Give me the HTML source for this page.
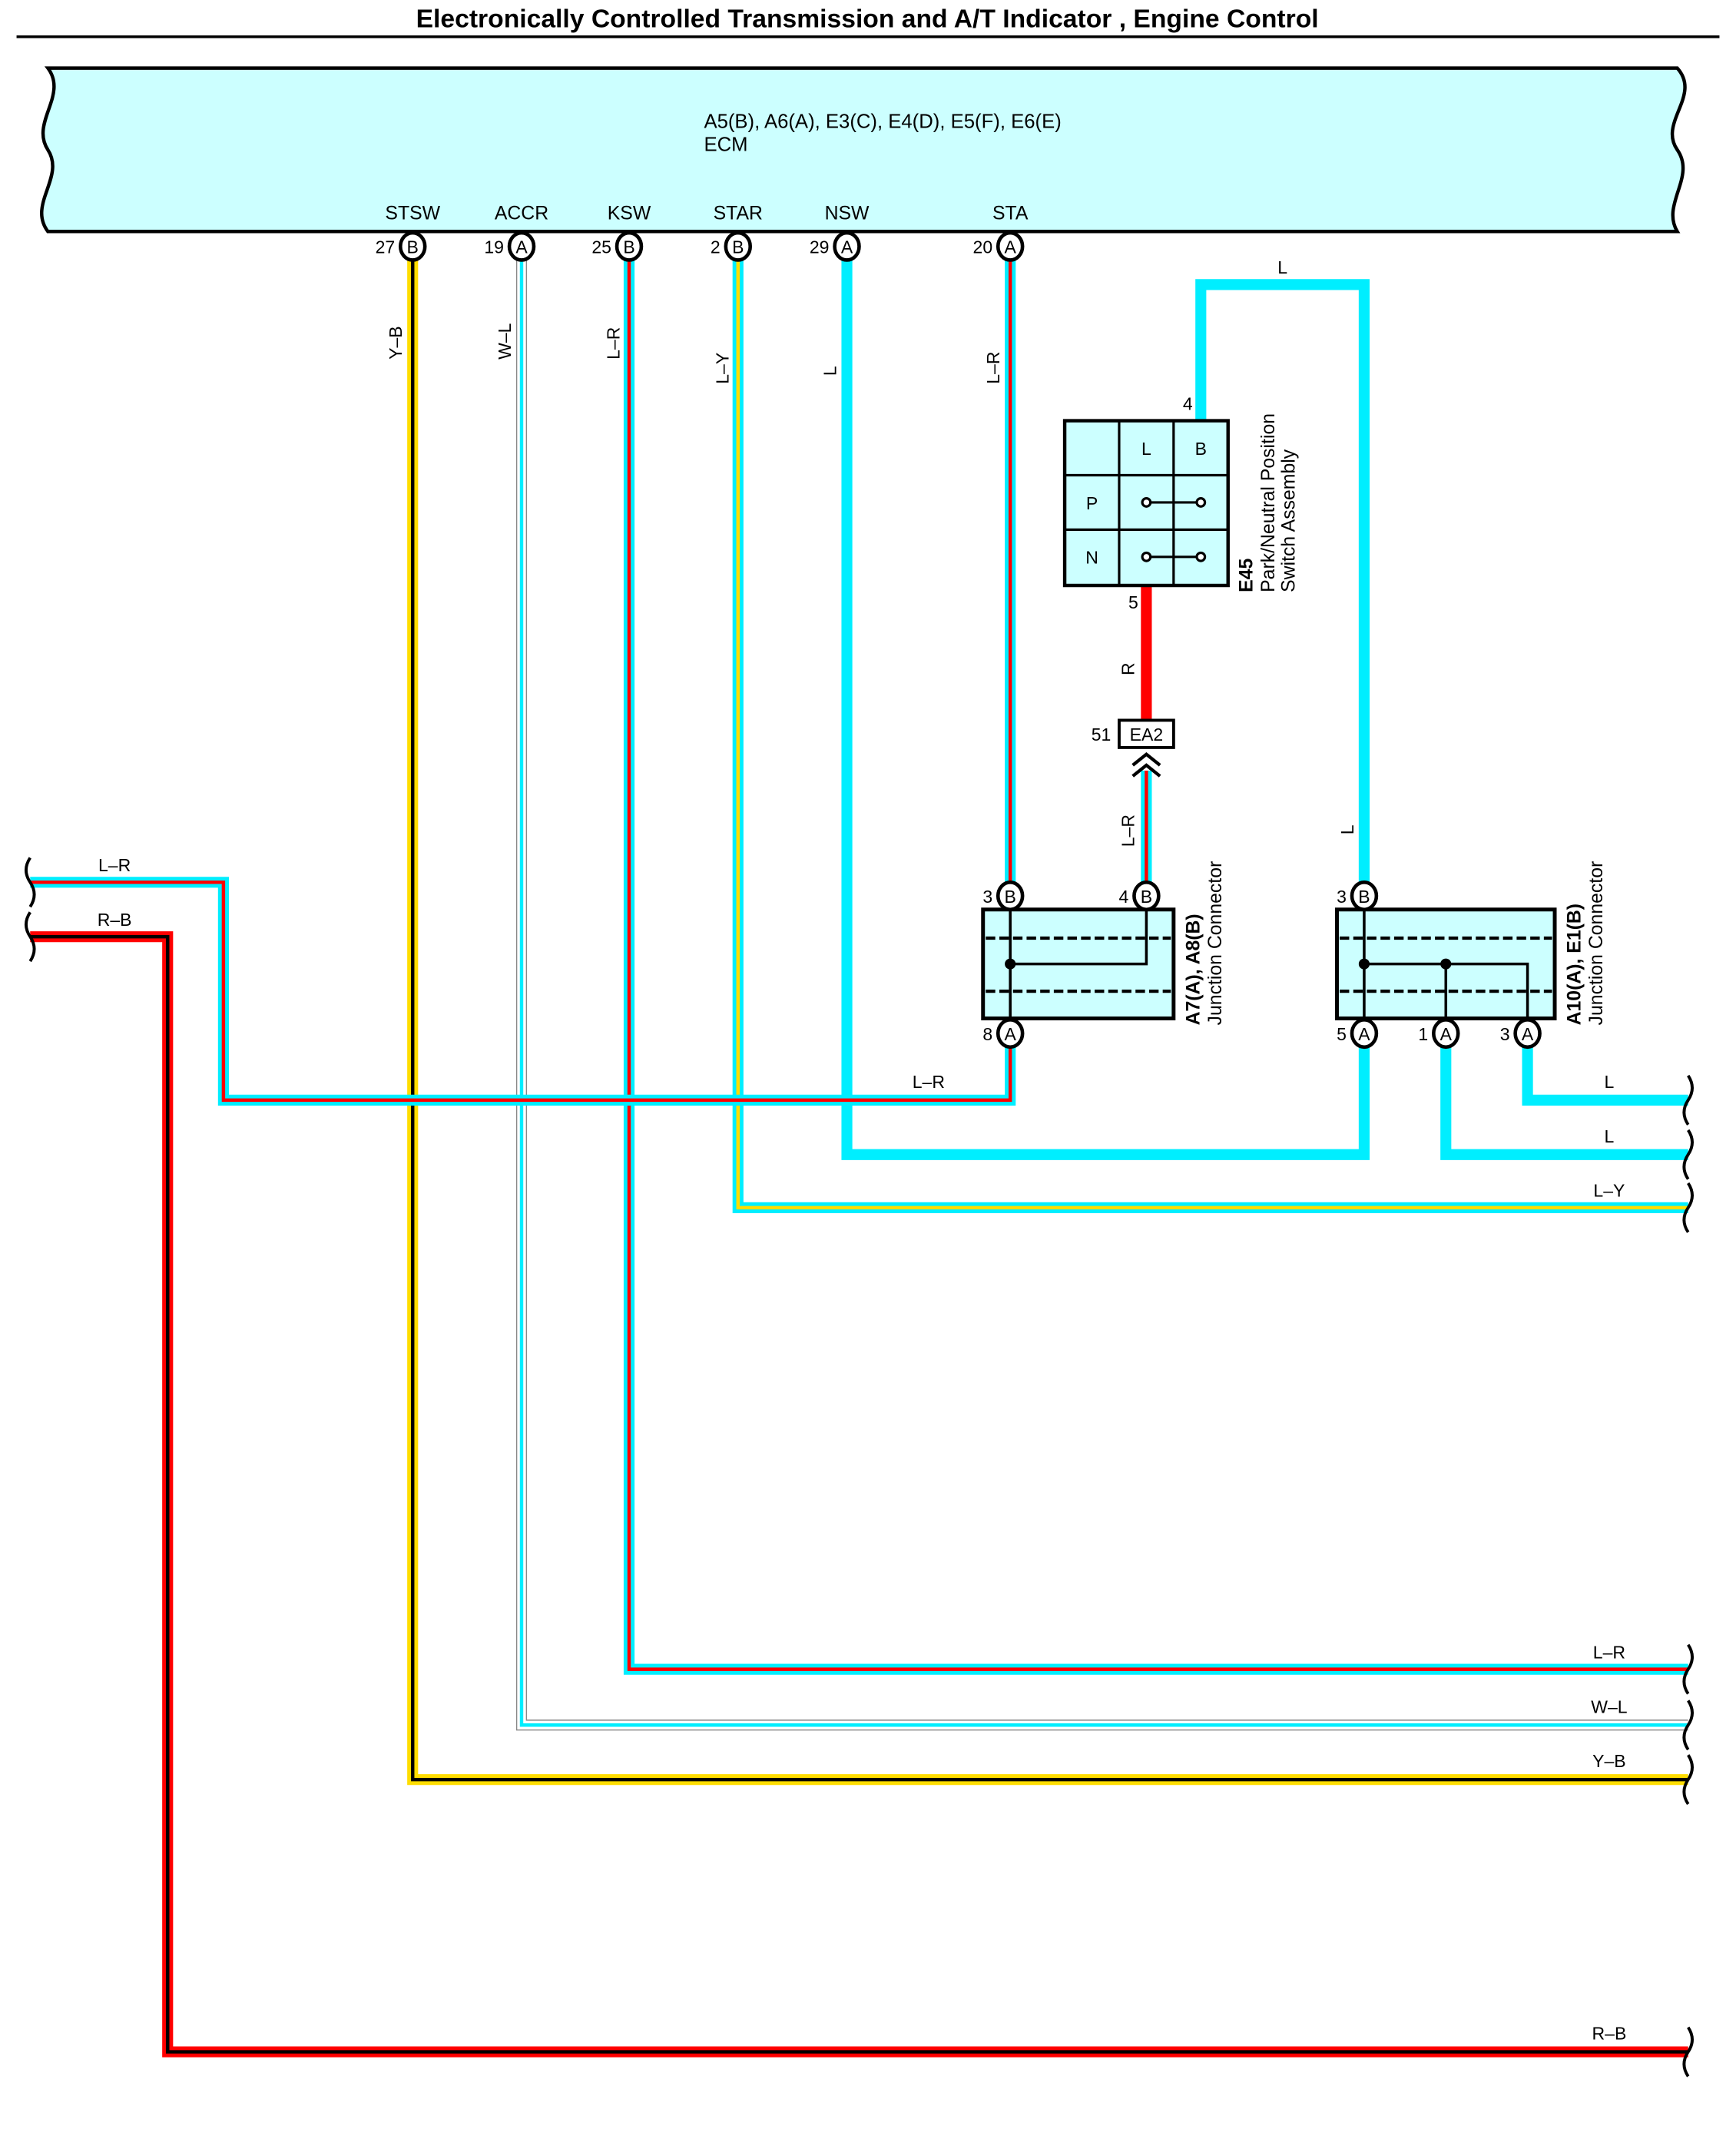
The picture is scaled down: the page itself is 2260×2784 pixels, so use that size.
<!DOCTYPE html>
<html><head><meta charset="utf-8"><style>
html,body{margin:0;padding:0;background:#fff}
svg{display:block}
text{font-family:"Liberation Sans",Arial,sans-serif;fill:#000}
</style></head><body>
<svg width="2260" height="2784" viewBox="0 0 1275 1571" xmlns="http://www.w3.org/2000/svg">
<defs>
<g id="pinA"><ellipse cx="0" cy="0" rx="9" ry="10" fill="#fff" stroke="#000" stroke-width="2.6"/><text x="0" y="5" font-size="13" text-anchor="middle">A</text></g>
<g id="pinB"><ellipse cx="0" cy="0" rx="9" ry="10" fill="#fff" stroke="#000" stroke-width="2.6"/><text x="0" y="5" font-size="13" text-anchor="middle">B</text></g>
</defs>
<text x="637" y="20" font-size="19" font-weight="bold" text-anchor="middle">Electronically Controlled Transmission and A/T Indicator , Engine Control</text>
<line x1="12" y1="27" x2="1263" y2="27" stroke="#000" stroke-width="2"/>

<!-- ECM -->
<path d="M35,50 L1232,50 C1250,70 1218,90 1232,110 C1246,130 1220,150 1232,170 L35,170 C20,150 48,130 35,110 C22,90 50,70 35,50 Z" fill="#ccffff" stroke="#000" stroke-width="2.5"/>
<text x="517" y="94" font-size="14.5">A5(B), A6(A), E3(C), E4(D), E5(F), E6(E)</text>
<text x="517" y="111" font-size="14.5">ECM</text>
<g font-size="14" text-anchor="middle">
<text x="303" y="161">STSW</text><text x="383" y="161">ACCR</text><text x="462" y="161">KSW</text>
<text x="542" y="161">STAR</text><text x="622" y="161">NSW</text><text x="742" y="161">STA</text>
</g>

<g fill="none" stroke-linejoin="miter" stroke-linecap="butt">
<polyline points="303,185 303,1307 1240,1307" stroke="#ffdd00" stroke-width="8"/>
<polyline points="303,185 303,1307 1240,1307" stroke="#000" stroke-width="2.5"/>
<polyline points="383,185 383,1267 1240,1267" stroke="#888" stroke-width="8"/>
<polyline points="383,185 383,1267 1240,1267" stroke="#fff" stroke-width="6.4"/>
<polyline points="383,185 383,1267 1240,1267" stroke="#00eeff" stroke-width="2.5"/>
<polyline points="462,185 462,1226 1240,1226" stroke="#00eeff" stroke-width="8"/>
<polyline points="462,185 462,1226 1240,1226" stroke="#ff0000" stroke-width="2.5"/>
<polyline points="542,185 542,887 1240,887" stroke="#00eeff" stroke-width="8"/>
<polyline points="542,185 542,887 1240,887" stroke="#ffdd00" stroke-width="2.5"/>
<polyline points="622,185 622,848 1002,848 1002,765" stroke="#00eeff" stroke-width="8"/>
<polyline points="742,185 742,652" stroke="#00eeff" stroke-width="8"/>
<polyline points="742,185 742,652" stroke="#ff0000" stroke-width="2.5"/>
<polyline points="22,648 164,648 164,808 742,808 742,765" stroke="#00eeff" stroke-width="8"/>
<polyline points="22,648 164,648 164,808 742,808 742,765" stroke="#ff0000" stroke-width="2.5"/>
<polyline points="22,688 123,688 123,1507 1240,1507" stroke="#ff0000" stroke-width="8"/>
<polyline points="22,688 123,688 123,1507 1240,1507" stroke="#000" stroke-width="2.5"/>
<polyline points="882,309 882,209 1002,209 1002,652" stroke="#00eeff" stroke-width="8"/>
<line x1="842" y1="430" x2="842" y2="529" stroke="#ff0000" stroke-width="8"/>
<line x1="842" y1="566" x2="842" y2="652" stroke="#00eeff" stroke-width="8"/>
<line x1="842" y1="566" x2="842" y2="652" stroke="#ff0000" stroke-width="2.5"/>
<polyline points="1062,765 1062,848 1240,848" stroke="#00eeff" stroke-width="8"/>
<polyline points="1122,765 1122,808 1240,808" stroke="#00eeff" stroke-width="8"/>
</g>

<use href="#pinB" x="303" y="181"/><use href="#pinA" x="383" y="181"/><use href="#pinB" x="462" y="181"/>
<use href="#pinB" x="542" y="181"/><use href="#pinA" x="622" y="181"/><use href="#pinA" x="742" y="181"/>
<g font-size="13" text-anchor="end">
<text x="290" y="186">27</text><text x="370" y="186">19</text><text x="449" y="186">25</text>
<text x="529" y="186">2</text><text x="609" y="186">29</text><text x="729" y="186">20</text>
</g>

<g font-size="13">
<text transform="translate(295,264) rotate(-90)">Y–B</text>
<text transform="translate(375,264) rotate(-90)">W–L</text>
<text transform="translate(455,264) rotate(-90)">L–R</text>
<text transform="translate(535,282) rotate(-90)">L–Y</text>
<text transform="translate(614,276) rotate(-90)">L</text>
<text transform="translate(734,282) rotate(-90)">L–R</text>
<text transform="translate(833,496) rotate(-90)">R</text>
<text transform="translate(833,622) rotate(-90)">L–R</text>
<text transform="translate(994,613) rotate(-90)">L</text>
</g>
<g font-size="13" text-anchor="middle">
<text x="942" y="201">L</text>
<text x="84" y="640">L–R</text><text x="84" y="680">R–B</text>
<text x="682" y="799">L–R</text>
<text x="1182" y="799">L</text><text x="1182" y="839">L</text><text x="1182" y="879">L–Y</text>
<text x="1182" y="1218">L–R</text><text x="1182" y="1258">W–L</text><text x="1182" y="1298">Y–B</text><text x="1182" y="1498">R–B</text>
</g>

<g fill="none" stroke="#000" stroke-width="2.2">
<path d="M1240,790 q6,9 0,18 q-6,9 0,18"/>
<path d="M1240,830 q6,9 0,18 q-6,9 0,18"/>
<path d="M1240,869 q6,9 0,18 q-6,9 0,18"/>
<path d="M1240,1208 q6,9 0,18 q-6,9 0,18"/>
<path d="M1240,1249 q6,9 0,18 q-6,9 0,18"/>
<path d="M1240,1289 q6,9 0,18 q-6,9 0,18"/>
<path d="M1240,1489 q6,9 0,18 q-6,9 0,18"/>
<path d="M22,630 q-6,9 0,18 q6,9 0,18"/>
<path d="M22,670 q-6,9 0,18 q6,9 0,18"/>
</g>

<rect x="782" y="309" width="120" height="121" fill="#ccffff" stroke="#000" stroke-width="2.5"/>
<g stroke="#000" stroke-width="1.8">
<line x1="822" y1="309" x2="822" y2="430"/><line x1="862" y1="309" x2="862" y2="430"/>
<line x1="782" y1="349" x2="902" y2="349"/><line x1="782" y1="389" x2="902" y2="389"/>
<line x1="842" y1="369" x2="882" y2="369"/><line x1="842" y1="409" x2="882" y2="409"/>
</g>
<g fill="#fff" stroke="#000" stroke-width="1.8">
<circle cx="842" cy="369" r="3"/><circle cx="882" cy="369" r="3"/>
<circle cx="842" cy="409" r="3"/><circle cx="882" cy="409" r="3"/>
</g>
<g font-size="13" text-anchor="middle">
<text x="842" y="334">L</text><text x="882" y="334">B</text>
<text x="802" y="374">P</text><text x="802" y="414">N</text>
</g>
<text x="876" y="301" font-size="13" text-anchor="end">4</text>
<text x="836" y="447" font-size="13" text-anchor="end">5</text>
<text transform="translate(920,435) rotate(-90)" font-size="14" font-weight="bold">E45</text>
<text transform="translate(936,435) rotate(-90)" font-size="14">Park/Neutral Position</text>
<text transform="translate(951,435) rotate(-90)" font-size="14">Switch Assembly</text>

<rect x="822" y="529" width="40" height="20" fill="#fff" stroke="#000" stroke-width="2.2"/>
<text x="842" y="544" font-size="13" text-anchor="middle">EA2</text>
<text x="816" y="544" font-size="13" text-anchor="end">51</text>
<g fill="none" stroke="#000" stroke-width="2.4">
<polyline points="832,562 842,554 852,562"/><polyline points="832,570 842,562 852,570"/>
</g>

<rect x="722" y="668" width="140" height="80" fill="#ccffff" stroke="#000" stroke-width="2.8"/>
<g stroke="#000" stroke-width="2.4" stroke-dasharray="7,3">
<line x1="724" y1="689" x2="860" y2="689"/><line x1="724" y1="728" x2="860" y2="728"/>
</g>
<g stroke="#000" stroke-width="2" fill="none">
<line x1="742" y1="668" x2="742" y2="748"/>
<polyline points="742,708 842,708 842,668"/>
</g>
<circle cx="742" cy="708" r="4" fill="#000"/>
<use href="#pinB" x="742" y="658"/><use href="#pinB" x="842" y="658"/><use href="#pinA" x="742" y="759"/>
<g font-size="13" text-anchor="end"><text x="729" y="663">3</text><text x="829" y="663">4</text><text x="729" y="764">8</text></g>
<text transform="translate(881,753) rotate(-90)" font-size="14" font-weight="bold">A7(A), A8(B)</text>
<text transform="translate(897,753) rotate(-90)" font-size="14">Junction Connector</text>

<rect x="982" y="668" width="160" height="80" fill="#ccffff" stroke="#000" stroke-width="2.8"/>
<g stroke="#000" stroke-width="2.4" stroke-dasharray="7,3">
<line x1="984" y1="689" x2="1140" y2="689"/><line x1="984" y1="728" x2="1140" y2="728"/>
</g>
<g stroke="#000" stroke-width="2" fill="none">
<line x1="1002" y1="668" x2="1002" y2="748"/>
<polyline points="1002,708 1122,708 1122,748"/>
<line x1="1062" y1="708" x2="1062" y2="748"/>
</g>
<circle cx="1002" cy="708" r="4" fill="#000"/><circle cx="1062" cy="708" r="4" fill="#000"/>
<use href="#pinB" x="1002" y="658"/><use href="#pinA" x="1002" y="759"/><use href="#pinA" x="1062" y="759"/><use href="#pinA" x="1122" y="759"/>
<g font-size="13" text-anchor="end"><text x="989" y="663">3</text><text x="989" y="764">5</text><text x="1049" y="764">1</text><text x="1109" y="764">3</text></g>
<text transform="translate(1161,753) rotate(-90)" font-size="14" font-weight="bold">A10(A), E1(B)</text>
<text transform="translate(1177,753) rotate(-90)" font-size="14">Junction Connector</text>
</svg>
</body></html>
